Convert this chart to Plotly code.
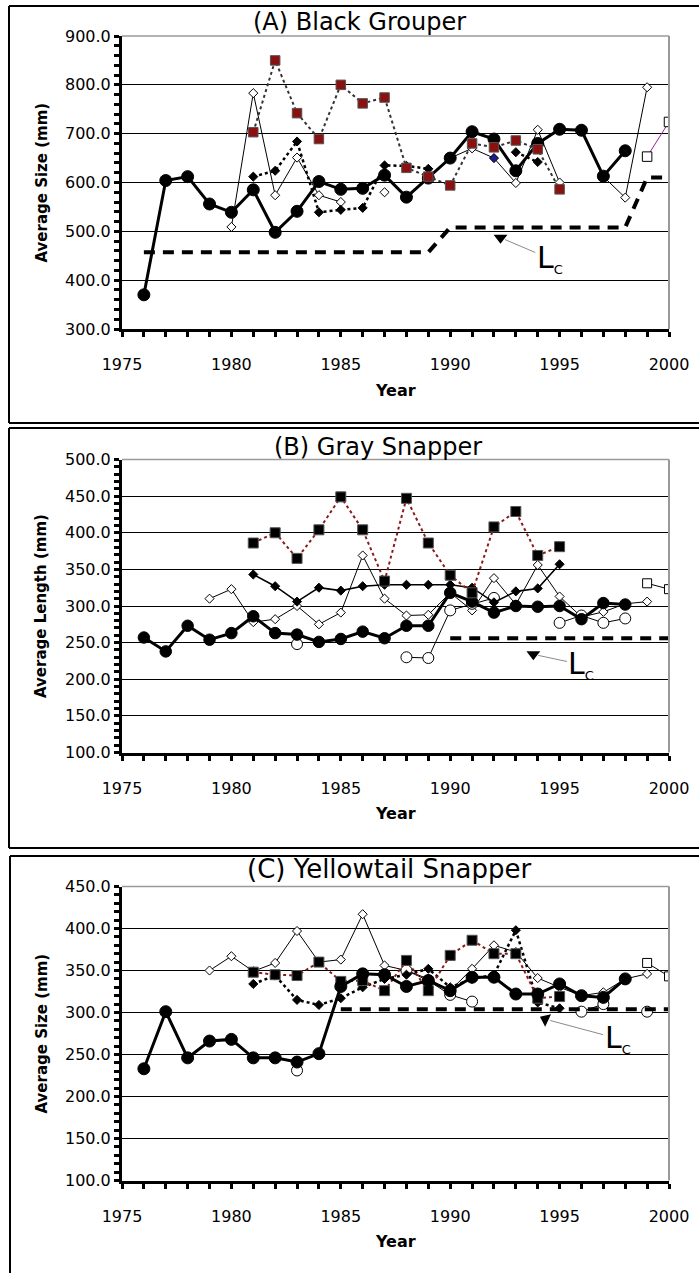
import plotly.graph_objects as go

# ---------------- data ----------------
years = list(range(1976, 2001))

# (A) Black Grouper
a_circle = [370, 604, 612, 556, 539, 585, 498, 541, 602, 586, 588, 615, 570,
            609, 650, 704, 689, 624, 680, 709, 707, 613, 665, None, None]
a_open_diamond = [None, None, None, None, 509, 783, 574, 651, 574, 560, None, 580, None,
                  None, 650, 670, 650, 599, 708, 600, None, 612, 569, 795, None]
a_diamond = [None, None, None, None, None, 612, 624, 684, 539, 544, 548, 635, 634,
             628, None, None, None, 662, 642, None, None, None, None, None, None]
a_square = [None, None, None, None, None, 703, 850, 742, 689, 800, 762, 774, 630,
            612, 594, 680, 672, 686, 668, 586, None, None, None, None, None]
a_open_square = [None] * 23 + [653, 724]
a_lc = [457] * 14 + [508] * 9 + [610] * 2

# (B) Gray Snapper
b_circle = [257, 238, 273, 254, 263, 286, 263, 261, 251, 255, 265, 256, 273,
            273, 318, 306, 291, 300, 299, 300, 282, 304, 302, None, None]
b_square = [None, None, None, None, None, 386, 400, 365, 404, 449, 404, 334, 447,
            386, 342, 318, 408, 429, 369, 381, None, None, None, None, None]
b_diamond = [None, None, None, None, None, 343, 327, 306, 325, 321, 327, 329, 329,
             329, 329, 325, 305, 320, 324, 357, None, None, None, None, None]
b_open_diamond = [None, None, None, 310, 323, 278, 282, 300, 275, 291, 369, 310, 287,
                  288, 318, 294, 338, 302, 356, 313, 285, 292, 303, 306, None]
b_open_circle = [None, None, None, None, None, None, None, 248, None, None, None, None, 230,
                 229, 294, 303, 311, None, None, 277, 287, 277, 283, None, None]
b_open_square = [None] * 23 + [331, 323]
b_lc = [None] * 14 + [256] * 11

# (C) Yellowtail Snapper
c_circle = [233, 301, 246, 266, 268, 246, 246, 241, 251, 331, 346, 345, 331,
            338, 326, 342, 342, 322, 322, 334, 320, 318, 340, None, None]
c_open_circle = [None, None, None, None, None, None, None, 231, None, None, None, None, 350,
                 338, 321, 313, None, None, None, None, 301, 310, None, 301, None]
c_open_diamond = [None, None, None, 350, 367, 349, 359, 397, 360, 363, 417, 356, 350,
                  340, 326, 352, 380, 372, 341, 330, 320, 324, 340, 346, None]
c_square = [None, None, None, None, None, 348, 345, 344, 360, 337, 338, 326, 362,
            326, 368, 386, 370, 370, 317, 319, None, None, None, None, None]
c_diamond = [None, None, None, None, None, 334, 344, 315, 309, 317, 330, 340, 345,
             352, 330, 340, 345, 398, 312, 305, None, None, None, None, None]
c_open_square = [None] * 23 + [359, 343]
c_lc = [None] * 9 + [304] * 16

panel_titles = ["(A) Black Grouper", "(B) Gray Snapper", "(C) Yellowtail Snapper"]
y_titles = ["Average Size (mm)", "Average Length (mm)", "Average Size (mm)"]
y_ranges = [(300, 900), (100, 500), (100, 450)]
y_major = [100, 50, 50]
y_minor = [20, 10, 10]

# L_c callouts: (arrow tip x, tip y, label x, label y)
lc_callouts = [(1992.3, 487, 1994.55, 444),
               (1993.8, 234, 1996.0, 220),
               (1994.35, 292, 1997.65, 269)]
highlight_year_a = 1992

# ---------------- layout geometry (pixels) ----------------
W, H = 699, 1273
plot_left, plot_right = 122, 669
plot_tb = [(36, 329), (459.5, 752.5), (886.5, 1180.5)]
# chart frames: left, top, bottom (None = runs past the page)
frames = [(9, 6, 423), (9, 428, 848), (10, 856, None)]
title_pos = [(359, 22, 24), (378, 447, 24), (390, 869, 26)]

FONT = "DejaVu Sans"
fig = go.Figure()


def ax_id(i, kind):
    return kind if i == 0 else f"{kind}{i + 1}"


def add(i, y, symbol, size, fill, line_w=1, dash="solid", lcolor="black",
        mline="black", mlw=1):
    fig.add_trace(go.Scatter(
        x=years, y=y, mode="lines+markers",
        xaxis=ax_id(i, "x"), yaxis=ax_id(i, "y"),
        line=dict(color=lcolor, width=line_w, dash=dash),
        marker=dict(symbol=symbol, size=size, color=fill,
                    line=dict(color=mline, width=mlw)),
        connectgaps=False, showlegend=False, hoverinfo="x+y"))


def add_lc(i, y):
    fig.add_trace(go.Scatter(
        x=years, y=y, mode="lines",
        xaxis=ax_id(i, "x"), yaxis=ax_id(i, "y"),
        line=dict(color="black", width=4, dash="11px,8px"),
        showlegend=False, hoverinfo="skip"))


# Panel A
a_fill = ["#1c1c8c" if yr == highlight_year_a else "white" for yr in years]
add(0, a_open_diamond, "diamond", 7, a_fill, line_w=1)
add(0, a_diamond, "diamond", 7, "black", line_w=2.5, dash="dot")
add(0, a_circle, "circle", 12, "black", line_w=3)
add(0, a_square, "square", 9.5, "#8b1010", line_w=2, dash="dot", lcolor="#333333",
    mline="#555555")
add(0, a_open_square, "square", 9.5, "white", line_w=1, lcolor="#a020a0")
add_lc(0, a_lc)

# Panel B
add(1, b_open_diamond, "diamond", 7, "white", line_w=1)
add(1, b_open_circle, "circle", 11, "white", line_w=1)
add(1, b_diamond, "diamond", 7, "black", line_w=1.6)
add(1, b_circle, "circle", 11.5, "black", line_w=3)
add(1, b_square, "square", 10, "black", line_w=2, dash="dot", lcolor="#8b1a1a",
    mline="#555555")
add(1, b_open_square, "square", 9, "white", line_w=1)
add_lc(1, b_lc)

# Panel C
add(2, c_open_diamond, "diamond", 7, "white", line_w=1)
add(2, c_open_circle, "circle", 11, "white", line_w=1)
add(2, c_diamond, "diamond", 7, "black", line_w=2.5, dash="dot")
add(2, c_square, "square", 10, "black", line_w=2, dash="dot", lcolor="#8b1a1a",
    mline="#555555")
add(2, c_circle, "circle", 12, "black", line_w=3)
add(2, c_open_square, "square", 9, "white", line_w=1)
add_lc(2, c_lc)

# L_c arrowhead markers
tri_symbols = [("triangle-down", 0), ("triangle-down", 0), ("triangle-left", 25)]
for i, (tx, ty, lx, ly) in enumerate(lc_callouts):
    sym, ang = tri_symbols[i]
    fig.add_trace(go.Scatter(
        x=[tx], y=[ty], mode="markers",
        xaxis=ax_id(i, "x"), yaxis=ax_id(i, "y"),
        marker=dict(symbol=sym, size=12, color="black", angle=ang),
        showlegend=False, hoverinfo="skip"))

layout = dict(width=W, height=H, autosize=False,
              margin=dict(l=0, r=0, t=0, b=0, pad=0, autoexpand=False),
              paper_bgcolor="white", plot_bgcolor="white",
              font=dict(family=FONT, color="black"))
annotations, shapes = [], []
tickfont = dict(family=FONT, size=16, color="black")

for i in range(3):
    top, bot = plot_tb[i]
    ydom = [1 - bot / H, 1 - top / H]
    xdom = [plot_left / W, plot_right / W]
    xa, ya = ax_id(i, "x"), ax_id(i, "y")
    xk, yk = ax_id(i, "xaxis"), ax_id(i, "yaxis")
    # overlay axes giving ticks that cross the axis line
    oxk, oyk = f"xaxis{i + 4}", f"yaxis{i + 4}"
    common_x = dict(range=[1975, 2000], showline=True, linewidth=3, linecolor="black",
                    tickwidth=3, ticklen=5, tickcolor="black", dtick=5, tick0=1975,
                    showgrid=False, zeroline=False, fixedrange=True, automargin=False)
    common_y = dict(range=list(y_ranges[i]), showline=True, linewidth=3,
                    linecolor="black", tickwidth=3, ticklen=5, tickcolor="black",
                    dtick=y_major[i], tick0=0, zeroline=False, fixedrange=True,
                    automargin=False)
    layout[xk] = dict(domain=xdom, anchor=ya, ticks="outside",
                      minor=dict(ticks="outside", dtick=1, ticklen=5, tickwidth=3,
                                 tickcolor="black"),
                      tickfont=tickfont, ticklabelstandoff=14, **common_x)
    layout[yk] = dict(domain=ydom, anchor=xa, ticks="outside", tickformat=".1f",
                      minor=dict(ticks="outside", dtick=y_minor[i], ticklen=5,
                                 tickwidth=3, tickcolor="black"),
                      showgrid=True, gridcolor="black", gridwidth=1,
                      tickfont=tickfont, **common_y)
    layout[oxk] = dict(overlaying=xa, anchor=ya, side="bottom", ticks="inside",
                       minor=dict(ticks="inside", dtick=1, ticklen=5, tickwidth=3,
                                  tickcolor="black"),
                       showticklabels=False, **common_x)
    layout[oyk] = dict(overlaying=ya, anchor=xa, side="left", ticks="inside",
                       minor=dict(ticks="inside", dtick=y_minor[i], ticklen=5,
                                  tickwidth=3, tickcolor="black"),
                       showticklabels=False, showgrid=False, **common_y)

    # plot-area border (top and right)
    shapes.append(dict(type="line", xref=f"{xa} domain", yref=f"{ya} domain",
                       x0=0, x1=1, y0=1, y1=1, line=dict(color="#9a9a9a", width=1.5),
                       layer="above"))
    shapes.append(dict(type="line", xref=f"{xa} domain", yref=f"{ya} domain",
                       x0=1, x1=1, y0=0, y1=1, line=dict(color="#9a9a9a", width=2),
                       layer="above"))
    # chart frame (left, top and bottom edges; right edge lies past the page)
    fl, ft, fb = frames[i]
    frame_line = dict(color="black", width=2)
    shapes.append(dict(type="line", xref="paper", yref="paper",
                       x0=fl / W, x1=1, y0=1 - ft / H, y1=1 - ft / H, line=frame_line))
    shapes.append(dict(type="line", xref="paper", yref="paper",
                       x0=fl / W, x1=fl / W, y0=0 if fb is None else 1 - fb / H,
                       y1=1 - ft / H, line=frame_line))
    if fb is not None:
        shapes.append(dict(type="line", xref="paper", yref="paper",
                           x0=fl / W, x1=1, y0=1 - fb / H, y1=1 - fb / H,
                           line=frame_line))

    # panel title
    tx, ty, ts = title_pos[i]
    annotations.append(dict(text=panel_titles[i], xref="paper", yref="paper",
                            x=tx / W, y=1 - ty / H, xanchor="center",
                            yanchor="middle", showarrow=False,
                            font=dict(family=FONT, size=ts, color="black")))
    # axis titles
    annotations.append(dict(text=f"<b>{y_titles[i]}</b>", xref="paper", yref="paper",
                            x=41 / W, y=1 - (top + bot) / 2 / H, textangle=-90,
                            xanchor="center", yanchor="middle", showarrow=False,
                            font=dict(family=FONT, size=15, color="black")))
    annotations.append(dict(text="<b>Year</b>", xref="paper", yref="paper",
                            x=(plot_left + plot_right) / 2 / W, y=1 - (bot + 61) / H,
                            xanchor="center", yanchor="middle", showarrow=False,
                            font=dict(family=FONT, size=16, color="black")))
    # L_c label with leader line
    tx_, ty_, lx, ly = lc_callouts[i]
    annotations.append(dict(text="L<sub><span style='font-size:13px'>C</span></sub>",
                            x=tx_, y=ty_, ax=lx, ay=ly, xref=xa, yref=ya,
                            axref=xa, ayref=ya, showarrow=True, arrowhead=0,
                            arrowwidth=1, arrowcolor="#8a8a8a", standoff=5,
                            font=dict(family=FONT, size=30, color="black")))

layout["annotations"] = annotations
layout["shapes"] = shapes
fig.update_layout(**layout)
fig.write_html("out.html")
